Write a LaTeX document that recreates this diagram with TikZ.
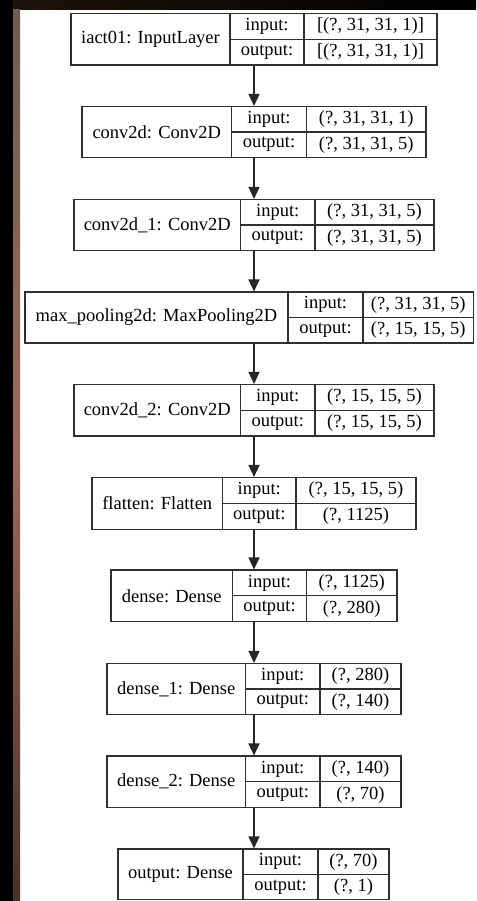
\documentclass[tikz,border=0pt]{standalone}
\usepackage{fontspec}
\setmainfont{Liberation Serif}
\usetikzlibrary{arrows.meta}

\definecolor{edge}{HTML}{303030}
\definecolor{stripTop}{HTML}{6E5E50}
\definecolor{stripMid}{HTML}{9C6A58}
\definecolor{stripBot}{HTML}{4A3028}

\tikzset{
  box/.style = {draw=edge, line width=1.1pt, inner sep=0pt},
  cell/.style = {inner sep=0pt, font=\fontsize{18.5}{22}\selectfont},
  flow/.style = {draw=black!85, line width=1.4pt, -{Triangle[length=12pt,width=11pt]}}
}

\begin{document}
\begin{tikzpicture}[x=1pt, y=-1pt]
    \useasboundingbox (0,0) rectangle (476,901);
    % backdrop behind the plot
    \fill[white] (0,0) rectangle (476,901);
    \shade[left color=black!85!brown, right color=black] (0,0) rectangle (476,9.5);
    \fill[black] (0,0) rectangle (13,901);
    \shade[top color=stripTop, bottom color=stripBot, middle color=stripMid] (13,9.5) rectangle (20,901);

    \coordinate (spine) at (254,0);

    % one record per layer
    \foreach \nm/\lx/\ty/\rx/\by/\da/\db/\lab/\vin/\vout in {
        iact/71/13.5/437/65/230/304/{iact01: InputLayer}/{[(?, 31, 31, 1)]}/{[(?, 31, 31, 1)]},
        cA/82/106.5/426/157.5/231.5/306.5/{conv2d: Conv2D}/{(?, 31, 31, 1)}/{(?, 31, 31, 5)},
        cB/74/199.5/434/250.5/240.5/315/{conv2d\_1: Conv2D}/{(?, 31, 31, 5)}/{(?, 31, 31, 5)},
        pool/25/292/473.5/343/288/363/{max\_pooling2d: MaxPooling2D}/{(?, 31, 31, 5)}/{(?, 15, 15, 5)},
        cC/74/384.5/434/436/240.5/315/{conv2d\_2: Conv2D}/{(?, 15, 15, 5)}/{(?, 15, 15, 5)},
        flat/92/477.5/416/529.5/222.5/296/{flatten: Flatten}/{(?, 15, 15, 5)}/{(?, 1125)},
        dA/111/570/397/621.5/232.5/306.5/{dense: Dense}/{(?, 1125)}/{(?, 280)},
        dB/107/663.5/401/714.5/245.5/320/{dense\_1: Dense}/{(?, 280)}/{(?, 140)},
        dC/107/756/401/807.5/245.5/320/{dense\_2: Dense}/{(?, 140)}/{(?, 70)},
        outp/118/849/389/899.5/243/318/{output: Dense}/{(?, 70)}/{(?, 1)}
    }{
        \node[box, minimum width={(\rx-\lx)*1pt}, minimum height={(\by-\ty)*1pt}]
            (\nm) at ({(\lx+\rx)/2},{(\ty+\by)/2}) {};
        \draw[edge, line width=1.1pt] (\da,\ty) -- (\da,\by);
        \draw[edge, line width=1.1pt] (\db,\ty) -- (\db,\by);
        \draw[edge, line width=1.1pt] (\da,{(\ty+\by)/2}) -- (\rx,{(\ty+\by)/2});
        \node[cell] (\nm-lab) at ({(\lx+\da)/2},{(\ty+\by)/2}) {\lab};
        \node[cell] (\nm-ki) at ({(\da+\db)/2},{\ty+(\by-\ty)/4}) {input:};
        \node[cell] (\nm-ko) at ({(\da+\db)/2},{\ty+3*(\by-\ty)/4}) {output:};
        \node[cell] (\nm-vi) at ({(\db+\rx)/2},{\ty+(\by-\ty)/4}) {\vin};
        \node[cell] (\nm-vo) at ({(\db+\rx)/2},{\ty+3*(\by-\ty)/4}) {\vout};
    }

    % arrows down the stack
    \foreach \a/\b in {iact/cA, cA/cB, cB/pool, pool/cC, cC/flat, flat/dA, dA/dB, dB/dC, dC/outp}
        \draw[flow] (\a.south -| spine) -- (\b.north -| spine);
\end{tikzpicture}
\end{document}
